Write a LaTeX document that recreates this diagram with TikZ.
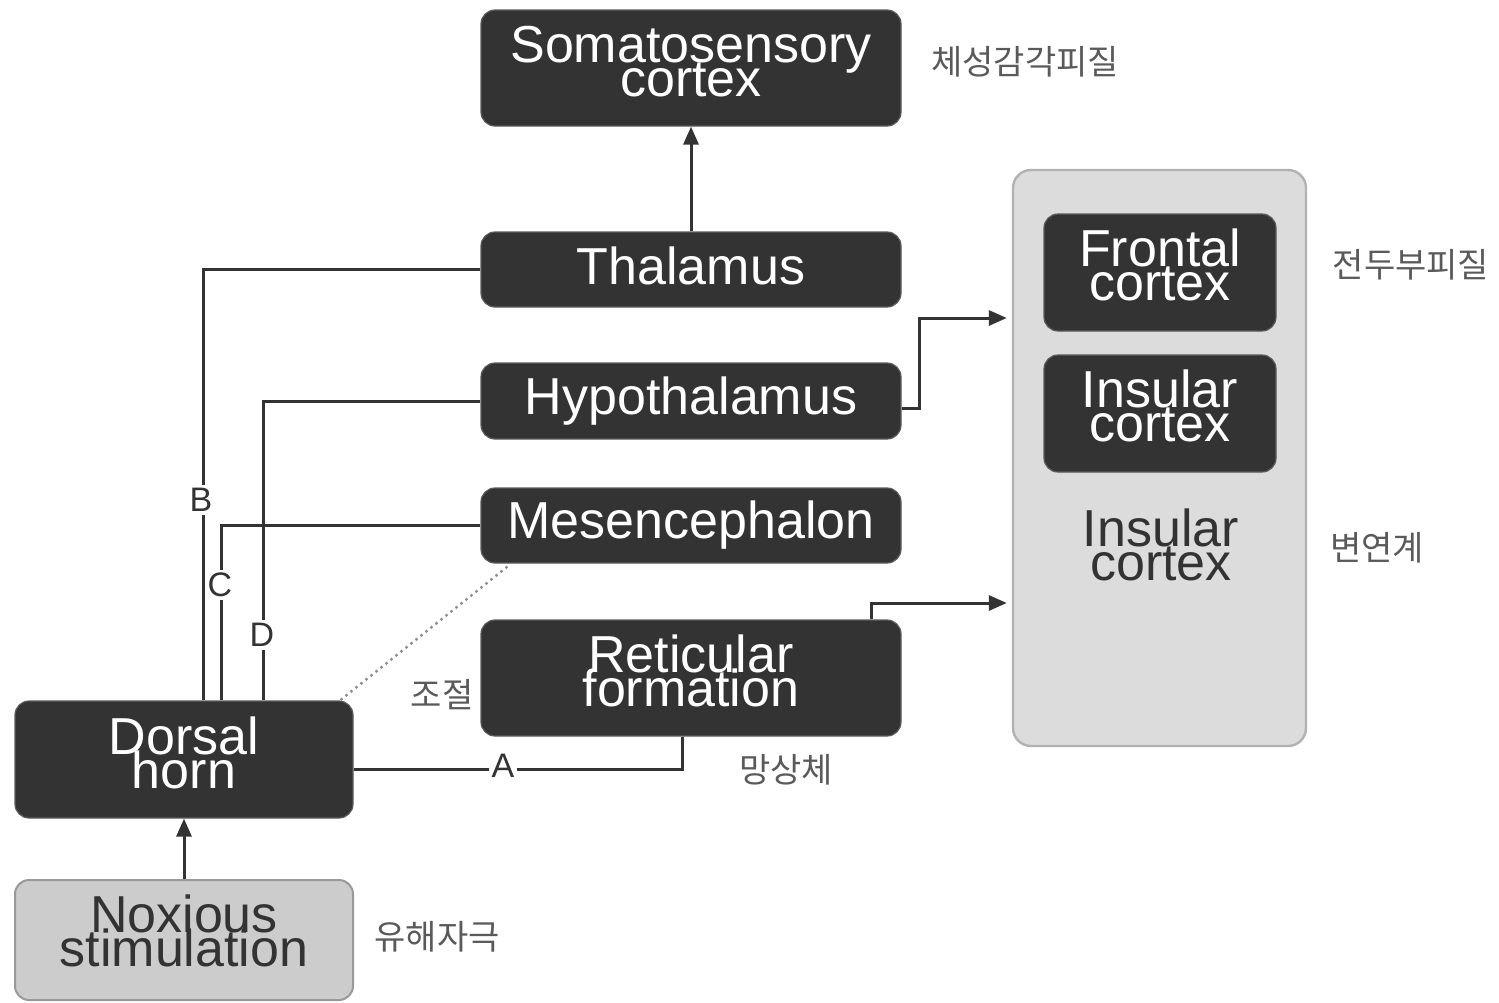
\documentclass[tikz,border=0pt]{standalone}
\usepackage{fontspec}
\setmainfont{Liberation Sans}
\newfontfamily\krfont{Noto Sans CJK KR}
\usetikzlibrary{arrows.meta,calc}
\definecolor{dark}{HTML}{333333}
\definecolor{lgray}{HTML}{CCCCCC}
\definecolor{bgray}{HTML}{DCDCDC}
\definecolor{kgray}{HTML}{5A5A5A}
\newcommand\bxfont{\fontsize{26}{17}\selectfont\lineskiplimit=-40pt\lineskip=0pt}
\tikzset{
  dbox/.style={rectangle, rounded corners=7pt, fill=dark, draw=dark!80!white, line width=0.6pt, text=white, font=\bxfont, align=center, inner sep=0pt},
  lbox/.style={rectangle, rounded corners=7pt, fill=lgray, draw=black!40, line width=1pt, text=dark, font=\bxfont, align=center, inner sep=0pt},
  kr/.style={text=kgray, font=\krfont\fontsize{17}{19}\selectfont, inner sep=0pt},
  lab/.style={fill=white, text=dark, font=\fontsize{17}{18}\selectfont, inner sep=1.5pt},
  conn/.style={draw=dark, line width=1.5pt},
  arr/.style={conn, -{Triangle[length=9pt,width=7.5pt]}},
}
\begin{document}
\begin{tikzpicture}[x=0.5pt,y=-0.5pt]
\useasboundingbox (0,0) rectangle (1499,1002);
% big gray container
\node[rectangle, rounded corners=9pt, fill=bgray, draw=black!30, line width=1.2pt, minimum width=146.5pt, minimum height=288pt, inner sep=0pt] (big) at (1159.5,458) {};
% boxes
\node[dbox, minimum width=210pt, minimum height=58pt, text depth=7pt] (soma) at (691,68) {Somatosensory\\cortex};
\node[dbox, minimum width=210pt, minimum height=37.5pt, text depth=4pt] (thal) at (691,269.5) {Thalamus};
\node[dbox, minimum width=210pt, minimum height=38pt] (hypo) at (691,401) {Hypothalamus};
\node[dbox, minimum width=210pt, minimum height=37.5pt] (mesen) at (691,525.5) {Mesencephalon};
\node[dbox, minimum width=210pt, minimum height=58pt, text depth=7pt] (retic) at (691,678) {Reticular\\formation};
\node[dbox, minimum width=169pt, minimum height=58.5pt, text depth=7pt] (dorsal) at (184,759.5) {Dorsal\\horn};
\node[lbox, minimum width=169pt, minimum height=60pt, text depth=9pt] (nox) at (184,940) {Noxious\\stimulation};
\node[dbox, minimum width=116pt, minimum height=58.5pt, text depth=8pt] (front) at (1160,272.5) {Frontal\\cortex};
\node[dbox, minimum width=116pt, minimum height=58.5pt, text depth=8pt] (insul) at (1160,413.5) {Insular\\cortex};
\node[text=dark, font=\bxfont, align=center, inner sep=0pt] (insul2) at (1161,545) {Insular\\cortex};
% Korean labels
\node[kr] (k1) at (1025,62) {체성감각피질};
\node[kr] (k2) at (1411,265) {전두부피질};
\node[kr] (k3) at (1377,548) {변연계};
\node[kr] (k4) at (786,770) {망상체};
\node[kr] (k5) at (442,695) {조절};
\node[kr] (k6) at (437,937) {유해자극};
% connectors
\draw[arr] (thal.north) -- (soma.south);
\draw[arr] (nox.north) -- (dorsal.south);
\draw[conn] (thal.west) -| (dorsal.north -| 203,0);
\draw[conn] (mesen.west) -| (dorsal.north -| 221,0);
\draw[conn] (hypo.west) -| (dorsal.north -| 263,0);
\draw[conn] (dorsal.east |- 0,769) -| (retic.south -| 682,0);
\draw[arr, shorten >=2.5pt] (hypo.east |- 0,408) -- (919,408) |- (big.west |- 0,318);
\draw[arr, shorten >=2.5pt] (retic.north -| 871,0) |- (big.west |- 0,603);
\draw[draw=black!45, line width=1.2pt, dotted] (mesen.south west) ++(27,3) coordinate (ds) (ds) -- (dorsal.north east -| 340,0);
% line labels
\node[lab] (la) at (503,766) {A};
\node[lab] (lb) at (201,500) {B};
\node[lab] (lc) at (220,585) {C};
\node[lab] (ld) at (262,635) {D};
\end{tikzpicture}
\end{document}
